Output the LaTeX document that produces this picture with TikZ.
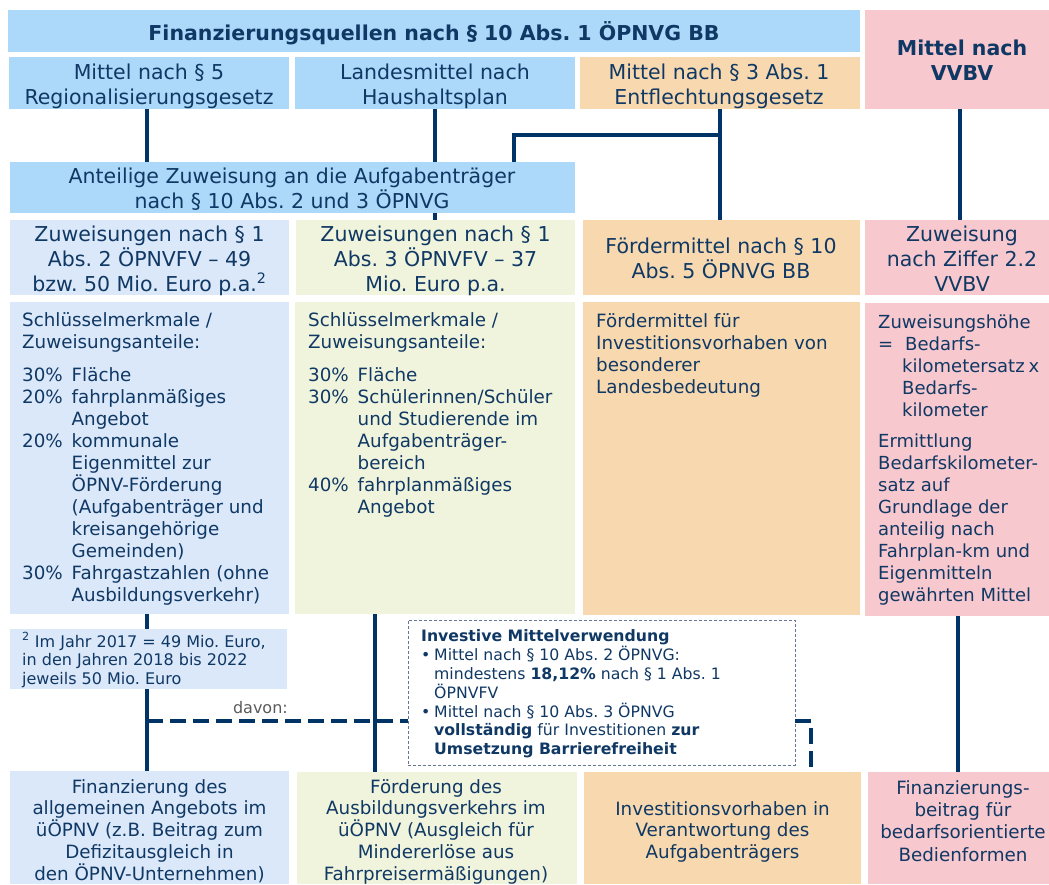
\documentclass[tikz,border=0pt]{standalone}
\usepackage{fontspec}
\setmainfont{DejaVu Sans}
\usetikzlibrary{calc}
\frenchspacing
\definecolor{hdrblue}{RGB}{172,216,250}
\definecolor{lblue}{RGB}{218,232,250}
\definecolor{lgreen}{RGB}{240,244,220}
\definecolor{lorange}{RGB}{248,217,175}
\definecolor{lpink}{RGB}{247,200,206}
\definecolor{tblue}{RGB}{16,56,100}
\definecolor{lnblue}{RGB}{0,51,102}
\definecolor{dgrey}{RGB}{90,90,90}
\definecolor{dashbd}{RGB}{100,120,150}
\newcommand\fr{\rule{0pt}{20pt}}
\newcommand\pc[1]{\makebox[49.5pt][l]{#1}}
\newcommand\bu{\makebox[13pt][l]{\textbullet}}
\newcommand\bi{\hspace*{13pt}}
\tikzset{
  box/.style={draw=none, inner sep=0, outer sep=0, anchor=north west},
  big/.style={font=\fontsize{20.5}{25}\selectfont, text=tblue, inner sep=0, align=center, anchor=north},
  bigb/.style={big, font=\fontsize{20.5}{25}\selectfont\bfseries},
  mid/.style={font=\fontsize{18.3}{22}\selectfont, text=tblue, inner sep=0, align=left, anchor=north west},
  low/.style={font=\fontsize{18.3}{21.75}\selectfont, text=tblue, inner sep=0, align=center, anchor=north},
  conn/.style={draw=lnblue, line width=4pt},
  dconn/.style={conn, dash pattern=on 16pt off 7pt},
}
\begin{document}
\frenchspacing
\begin{tikzpicture}[x=1pt, y=-1pt]
\useasboundingbox (0,0) rectangle (1049,884);
% boxes
\node[box,fill=hdrblue,minimum width=852pt,minimum height=42pt] (hdr) at (8,10) {};
\node[box,fill=lpink,minimum width=184pt,minimum height=99pt] (vvbv) at (865,10) {};
\node[box,fill=hdrblue,minimum width=280pt,minimum height=52pt] (b1) at (9,57) {};
\node[box,fill=hdrblue,minimum width=280pt,minimum height=52pt] (b2) at (295,57) {};
\node[box,fill=lorange,minimum width=280pt,minimum height=52pt] (b3) at (580,57) {};
\node[box,fill=hdrblue,minimum width=565pt,minimum height=51pt] (ant) at (10,162) {};
\node[box,fill=lblue,minimum width=279pt,minimum height=75pt] (r3a) at (10,220) {};
\node[box,fill=lgreen,minimum width=279pt,minimum height=75pt] (r3b) at (296,220) {};
\node[box,fill=lorange,minimum width=277pt,minimum height=75pt] (r3c) at (583,220) {};
\node[box,fill=lpink,minimum width=184pt,minimum height=75pt] (r3d) at (865,220) {};
\node[box,fill=lblue,minimum width=279pt,minimum height=312pt] (r4a) at (10,302) {};
\node[box,fill=lgreen,minimum width=280pt,minimum height=312pt] (r4b) at (295,302) {};
\node[box,fill=lorange,minimum width=277pt,minimum height=313pt] (r4c) at (583,302) {};
\node[box,fill=lpink,minimum width=184pt,minimum height=313pt] (r4d) at (865,303) {};
\node[box,fill=lblue,minimum width=279pt,minimum height=113pt] (r5a) at (10,771) {};
\node[box,fill=lgreen,minimum width=280pt,minimum height=112pt] (r5b) at (297,772) {};
\node[box,fill=lorange,minimum width=277pt,minimum height=112pt] (r5c) at (584,772) {};
\node[box,fill=lpink,minimum width=181pt,minimum height=112pt] (r5d) at (868,772) {};
% upper connectors
\draw[conn] ([xshift=-2pt]b1.south) -- ([xshift=-2pt]b1.south |- ant.north);
\draw[conn] (b2.south) -- (b2.south |- ant.north);
\draw[conn] (ant.south -| b2.south) -- (r3b.north -| b2.south);
\draw[conn] (b3.south) -- (b3.south |- r3c.north);
\coordinate (j) at ($(b3.south)+(0,26)$);
\draw[conn] (j) -| ([xshift=-61pt]ant.north east);
\draw[conn] ([xshift=3pt]vvbv.south) -- ([xshift=3pt]vvbv.south |- r3d.north);
% lower connectors
\draw[conn] ([xshift=-2.5pt]r4a.south) -- ([xshift=-2.5pt]r4a.south |- r5a.north);
\draw[conn] ([xshift=-60pt]r4b.south) -- ([xshift=-60pt]r4b.south |- r5b.north);
\draw[conn] ([xshift=1pt]r4d.south) -- ([xshift=1pt]r4d.south |- r5d.north);
\node[box,fill=lblue,minimum width=277pt,minimum height=60pt] (fn) at (10,629) {};
\node[box,fill=white,draw=dashbd,line width=1pt,dash pattern=on 3pt off 2pt,minimum width=387pt,minimum height=145pt] (dbox) at (408,620) {};
\coordinate (dv) at (147,721);
\draw[dconn] (dv) -- (dv -| dbox.west);
\draw[dconn] (dbox.east |- dv) -| ([xshift=88.5pt]r5c.north);
% texts
\node[bigb, anchor=base] (thdr) at (434,40) {Finanzierungsquellen nach § 10 Abs. 1 ÖPNVG BB};
\node[bigb] (tvvbv) at (962,35) {\fr Mittel nach\\VVBV};
\node[big] (tb1) at (149,59) {\fr Mittel nach § 5\\Regionalisierungsgesetz};
\node[big] (tb2) at (435,59) {\fr Landesmittel nach\\Haushaltsplan};
\node[big] (tb3) at (719,59) {\fr Mittel nach § 3 Abs. 1\\Entflechtungsgesetz};
\node[big] (tant) at (292,163) {\fr Anteilige Zuweisung an die Aufgabenträger\\nach § 10 Abs. 2 und 3 ÖPNVG};
\node[big] (tr3a) at (149.5,221) {\fr Zuweisungen nach § 1\\Abs. 2 ÖPNVFV – 49\\bzw. 50 Mio. Euro p.a.\textsuperscript{2}};
\node[big] (tr3b) at (435.5,221) {\fr Zuweisungen nach § 1\\Abs. 3 ÖPNVFV – 37\\Mio. Euro p.a.};
\node[big] (tr3c) at (721,233) {\fr Fördermittel nach § 10\\Abs. 5 ÖPNVG BB};
\node[big] (tr3d) at (962,221) {\fr Zuweisung\\nach Ziffer 2.2\\VVBV};
\node[mid] (tr4a) at (22,306) {\fr Schlüsselmerkmale /\\Zuweisungsanteile:\\[11pt]\pc{30\%}Fläche\\\pc{20\%}fahrplanmäßiges\\\pc{}Angebot\\\pc{20\%}kommunale\\\pc{}Eigenmittel zur\\\pc{}ÖPNV-Förderung\\\pc{}(Aufgabenträger und\\\pc{}kreisangehörige\\\pc{}Gemeinden)\\\pc{30\%}Fahrgastzahlen (ohne\\\pc{}Ausbildungsverkehr)};
\node[mid] (tr4b) at (308,306) {\fr Schlüsselmerkmale /\\Zuweisungsanteile:\\[11pt]\pc{30\%}Fläche\\\pc{30\%}Schülerinnen/Schüler\\\pc{}und Studierende im\\\pc{}Aufgabenträger-\\\pc{}bereich\\\pc{40\%}fahrplanmäßiges\\\pc{}Angebot};
\node[mid] (tr4c) at (596,307) {\fr Fördermittel für\\Investitionsvorhaben von\\besonderer\\Landesbedeutung};
\node[mid, font=\fontsize{18}{22}\selectfont] (tr4d) at (878,308) {\fr Zuweisungshöhe\\\makebox[27pt][l]{=}Bedarfs-\\\hspace*{24pt}kilometersatz\hspace{4pt}x\\\hspace*{24pt}Bedarfs-\\\hspace*{24pt}kilometer\\[9pt]Ermittlung\\Bedarfskilometer-\\satz auf\\Grundlage der\\anteilig nach\\Fahrplan-km und\\Eigenmitteln\\gewährten Mittel};
\node[mid, font=\fontsize{16}{18.5}\selectfont] (tfn) at (22,627) {\fr\textsuperscript{2} Im Jahr 2017 = 49 Mio. Euro,\\in den Jahren 2018 bis 2022\\jeweils 50 Mio. Euro};
\node[font=\fontsize{16}{18}\selectfont, text=dgrey, anchor=base east, inner sep=0] (davon) at (288,713) {davon:};
\node[mid, font=\fontsize{15.7}{18.85}\selectfont] (tdbox) at (421,621.5) {\fr\textbf{Investive Mittelverwendung}\\\bu Mittel nach § 10 Abs. 2 ÖPNVG:\\\bi mindestens \textbf{18,12\%} nach § 1 Abs. 1\\\bi ÖPNVFV\\\bu Mittel nach § 10 Abs. 3 ÖPNVG\\\bi\textbf{vollständig} für Investitionen \textbf{zur}\\\bi\textbf{Umsetzung Barrierefreiheit}};
\node[low] (tr5a) at (149.5,773) {\fr Finanzierung des\\allgemeinen Angebots im\\üÖPNV (z.B. Beitrag zum\\Defizitausgleich in\\den ÖPNV-Unternehmen)};
\node[low] (tr5b) at (436,773) {\fr Förderung des\\Ausbildungsverkehrs im\\üÖPNV (Ausgleich für\\Mindererlöse aus\\Fahrpreisermäßigungen)};
\node[low] (tr5c) at (722.5,795) {\fr Investitionsvorhaben in\\Verantwortung des\\Aufgabenträgers};
\node[low, font=\fontsize{18.3}{22.3}\selectfont] (tr5d) at (963,774) {\fr Finanzierungs-\\beitrag für\\bedarfsorientierte\\Bedienformen};
\end{tikzpicture}
\end{document}
